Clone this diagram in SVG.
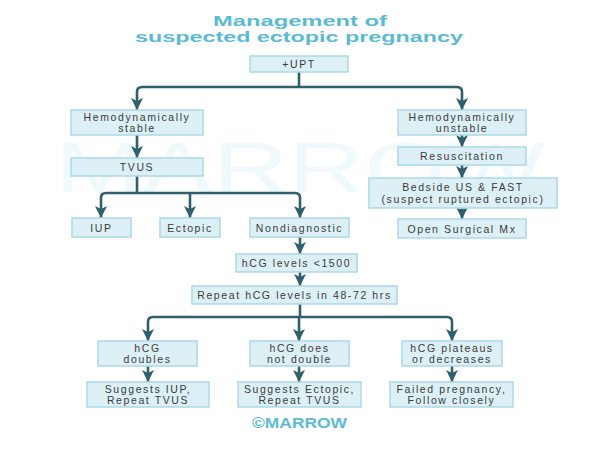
<svg xmlns="http://www.w3.org/2000/svg" width="600" height="451" viewBox="0 0 600 451">
<defs>
<style>
.bg{fill:#ffffff}
.box{fill:#dcf0f6;stroke:#acd9e6;stroke-width:1.5}
.t{font-family:"Liberation Sans",Arial,sans-serif;font-size:10.5px;fill:#3b3b3b;text-anchor:middle;letter-spacing:1.6px}
.title{font-family:"Liberation Sans",Arial,sans-serif;font-weight:bold;font-size:14px;fill:#5cbbd3;text-anchor:middle}
.wm{font-family:"Liberation Sans",Arial,sans-serif;font-size:70px;fill:#f0f9fb;text-anchor:middle}
.c{fill:none;stroke:#2f5f6d;stroke-width:2.6}
</style>
<marker id="ah" markerUnits="userSpaceOnUse" markerWidth="12" markerHeight="12" viewBox="0 0 10 10" refX="10" refY="5" orient="auto">
<path d="M0,0 L10,5 L0,10 L2.5,5 z" fill="#2f5f6d"/>
</marker>
</defs>
<rect class="bg" x="0" y="0" width="600" height="451"/>
<text class="wm" x="300" y="192" textLength="490" lengthAdjust="spacingAndGlyphs">MARROW</text>
<g id="title">
<text class="title" x="300" y="26" textLength="174" lengthAdjust="spacingAndGlyphs">Management of</text>
<text class="title" x="299" y="42" textLength="328" lengthAdjust="spacingAndGlyphs">suspected ectopic pregnancy</text>
</g>
<g id="connectors">
<path class="c" d="M299,72 V87"/>
<path class="c" marker-end="url(#ah)" d="M299,87 H142 Q137,87 137,92 V110"/>
<path class="c" marker-end="url(#ah)" d="M299,87 H457 Q462,87 462,92 V110"/>
<path class="c" marker-end="url(#ah)" d="M137,135 V158"/>
<path class="c" d="M137,176 V193"/>
<path class="c" marker-end="url(#ah)" d="M137,193 H106 Q101,193 101,198 V218"/>
<path class="c" marker-end="url(#ah)" d="M190,193 V218"/>
<path class="c" marker-end="url(#ah)" d="M137,193 H295 Q300,193 300,198 V218"/>
<path class="c" marker-end="url(#ah)" d="M300,237 V254"/>
<path class="c" marker-end="url(#ah)" d="M300,272 V286"/>
<path class="c" d="M300,304 V317"/>
<path class="c" marker-end="url(#ah)" d="M300,317 H153 Q148,317 148,322 V341"/>
<path class="c" marker-end="url(#ah)" d="M299,317 V341"/>
<path class="c" marker-end="url(#ah)" d="M300,317 H447 Q452,317 452,322 V341"/>
<path class="c" marker-end="url(#ah)" d="M148,366 V382"/>
<path class="c" marker-end="url(#ah)" d="M299,366 V382"/>
<path class="c" marker-end="url(#ah)" d="M452,366 V382"/>
<path class="c" marker-end="url(#ah)" d="M462,135 V147"/>
<path class="c" marker-end="url(#ah)" d="M462,165 V178"/>
<path class="c" marker-end="url(#ah)" d="M462,208 V219"/>
</g>
<g id="upt"><rect class="box" x="250" y="56" width="98" height="16"/><text class="t" x="299" y="68">+UPT</text></g>
<g id="stable"><rect class="box" x="71" y="110" width="132" height="25"/><text class="t" x="137" y="120.5">Hemodynamically</text><text class="t" x="137" y="132">stable</text></g>
<g id="tvus"><rect class="box" x="71" y="158" width="132" height="18"/><text class="t" x="137" y="171">TVUS</text></g>
<g id="iup"><rect class="box" x="72" y="218" width="59" height="19"/><text class="t" x="101.5" y="231.5">IUP</text></g>
<g id="ectopic"><rect class="box" x="160" y="218" width="60" height="19"/><text class="t" x="190" y="231.5">Ectopic</text></g>
<g id="nondiag"><rect class="box" x="250" y="218" width="99" height="19"/><text class="t" x="299.5" y="231.5">Nondiagnostic</text></g>
<g id="hcg1500"><rect class="box" x="236" y="254" width="121" height="18"/><text class="t" x="296.5" y="267">hCG levels &lt;1500</text></g>
<g id="repeat"><rect class="box" x="192" y="286" width="205" height="18"/><text class="t" x="294.5" y="299">Repeat hCG levels in 48-72 hrs</text></g>
<g id="doubles"><rect class="box" x="98" y="341" width="99" height="25"/><text class="t" x="147.5" y="351.5">hCG</text><text class="t" x="147.5" y="363">doubles</text></g>
<g id="notdouble"><rect class="box" x="250" y="341" width="99" height="25"/><text class="t" x="299.5" y="351.5">hCG does</text><text class="t" x="299.5" y="363">not double</text></g>
<g id="plateaus"><rect class="box" x="402" y="341" width="100" height="25"/><text class="t" x="452" y="351.5">hCG plateaus</text><text class="t" x="452" y="363">or decreases</text></g>
<g id="sugiup"><rect class="box" x="87" y="382" width="122" height="25"/><text class="t" x="148" y="392.5">Suggests IUP,</text><text class="t" x="148" y="404">Repeat TVUS</text></g>
<g id="sugect"><rect class="box" x="238" y="382" width="123" height="25"/><text class="t" x="299.5" y="392.5">Suggests Ectopic,</text><text class="t" x="299.5" y="404">Repeat TVUS</text></g>
<g id="failed"><rect class="box" x="390" y="382" width="123" height="25"/><text class="t" x="451.5" y="392.5">Failed pregnancy,</text><text class="t" x="451.5" y="404">Follow closely</text></g>
<g id="unstable"><rect class="box" x="398" y="110" width="128" height="25"/><text class="t" x="462" y="120.5">Hemodynamically</text><text class="t" x="462" y="132">unstable</text></g>
<g id="resus"><rect class="box" x="398" y="147" width="128" height="18"/><text class="t" x="462" y="160">Resuscitation</text></g>
<g id="bedside"><rect class="box" x="369" y="178" width="188" height="30"/><text class="t" x="463" y="190.5">Bedside US &amp; FAST</text><text class="t" x="463" y="203">(suspect ruptured ectopic)</text></g>
<g id="surgical"><rect class="box" x="398" y="219" width="128" height="19"/><text class="t" x="462" y="232.5">Open Surgical Mx</text></g>
<g id="logo"><text class="title" x="299.5" y="428" font-size="13" textLength="95" lengthAdjust="spacingAndGlyphs">©MARROW</text></g>
</svg>
